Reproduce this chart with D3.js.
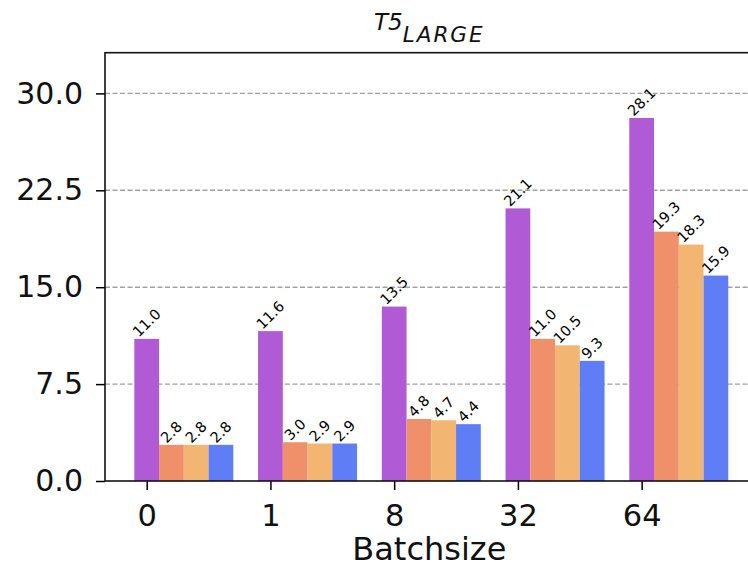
<!DOCTYPE html>
<html>
<head>
<meta charset="utf-8">
<script src="https://cdn.jsdelivr.net/npm/d3@7"></script>
<style>
  html, body { margin: 0; padding: 0; background: #fff; }
  svg { display: block; font-family: "DejaVu Sans", sans-serif; }
</style>
</head>
<body>
<svg id="chart" width="748" height="568"></svg>
<script>
// Batch sizes along the x axis
const batchSizes = ["0", "1", "8", "32", "64"];

// Latency values per configuration, one array per bar colour
const seriesA = [11.0, 11.6, 13.5, 21.1, 28.1];
const seriesB = [2.8, 3.0, 4.8, 11.0, 19.3];
const seriesC = [2.8, 2.9, 4.7, 10.5, 18.3];
const seriesD = [2.8, 2.9, 4.4, 9.3, 15.9];

const seriesColors = ["#b05bd5", "#f0906b", "#f2b672", "#5f7ef6"];
const yTickValues = [0, 7.5, 15.0, 22.5, 30.0];

const allSeries = [seriesA, seriesB, seriesC, seriesD];
const barWidth = 0.2;   // in category units

const svg = d3.select("#chart");
const plotLeft = 105, plotRight = 757.6, plotTop = 52.7, plotBottom = 481;

const x = d3.scaleLinear().domain([-0.337, 4.937]).range([plotLeft, plotRight]);
const y = d3.scaleLinear().domain([0, 33.15]).range([plotBottom, plotTop]);

// dashed horizontal grid
svg.append("g")
  .selectAll("line")
  .data(yTickValues.filter(v => v > 0))
  .join("line")
  .attr("x1", plotLeft).attr("x2", plotRight)
  .attr("y1", d => y(d)).attr("y2", d => y(d))
  .attr("stroke", "#a0a0a0")
  .attr("stroke-width", 1.4)
  .attr("stroke-dasharray", "5,2.5");

// bars
const bars = [];
allSeries.forEach((vals, s) => {
  vals.forEach((v, i) => bars.push({ s, i, v }));
});

svg.append("g")
  .selectAll("rect")
  .data(bars)
  .join("rect")
  .attr("x", d => x(d.i + d.s * barWidth - barWidth / 2))
  .attr("width", d => x(barWidth) - x(0))
  .attr("y", d => y(d.v))
  .attr("height", d => y(0) - y(d.v))
  .attr("fill", d => seriesColors[d.s]);

// value labels, rotated 45 degrees and sitting on top of each bar
const labelSize = 14.5;
svg.append("g")
  .selectAll("text")
  .data(bars)
  .join("text")
  .attr("font-size", labelSize)
  .attr("text-anchor", "middle")
  .attr("dominant-baseline", "central")
  .attr("fill", "#000")
  .text(d => d.v.toFixed(1))
  .each(function (d) {
    const w = this.getComputedTextLength();
    const off = (w + labelSize * 0.9) / (2 * Math.SQRT2);
    const cx = x(d.i + d.s * barWidth);
    d3.select(this).attr("transform",
      `translate(${cx},${y(d.v) - off}) rotate(-45)`);
  });

// axes
const yAxis = d3.axisLeft(y)
  .tickValues(yTickValues)
  .tickFormat(d3.format(".1f"))
  .tickSize(9)
  .tickPadding(13);
const gy = svg.append("g").attr("transform", `translate(${plotLeft},0)`).call(yAxis);
gy.select(".domain").remove();
gy.selectAll(".tick line").attr("stroke", "#000").attr("stroke-width", 1.5);
gy.selectAll(".tick text")
  .attr("font-size", 30)
  .attr("font-family", "DejaVu Sans")
  .attr("fill", "#111");

const xAxis = d3.axisBottom(x)
  .tickValues(batchSizes.map((_, i) => i))
  .tickFormat(i => batchSizes[i])
  .tickSize(9)
  .tickPadding(14.5);
const gx = svg.append("g").attr("transform", `translate(0,${plotBottom})`).call(xAxis);
gx.select(".domain").remove();
gx.selectAll(".tick line").attr("stroke", "#000").attr("stroke-width", 1.5);
gx.selectAll(".tick text")
  .attr("font-size", 30.5)
  .attr("font-family", "DejaVu Sans")
  .attr("fill", "#111");

// frame
svg.append("rect")
  .attr("x", plotLeft).attr("y", plotTop)
  .attr("width", plotRight - plotLeft).attr("height", plotBottom - plotTop)
  .attr("fill", "none")
  .attr("stroke", "#111")
  .attr("stroke-width", 1.6);

// x axis title
svg.append("text")
  .attr("x", (plotLeft + plotRight) / 2 - 2)
  .attr("y", 560)
  .attr("text-anchor", "middle")
  .attr("font-size", 32)
  .attr("fill", "#111")
  .text("Batchsize");

// chart title with subscript
const title = svg.append("text")
  .attr("x", (plotLeft + plotRight) / 2 - 2)
  .attr("y", 30)
  .attr("text-anchor", "middle")
  .attr("font-style", "italic")
  .attr("fill", "#111");
title.append("tspan").attr("font-size", 23).text("T5");
title.append("tspan").attr("font-size", 21.5).attr("dy", 11.5)
  .attr("letter-spacing", 2).text("LARGE");
</script>
</body>
</html>
